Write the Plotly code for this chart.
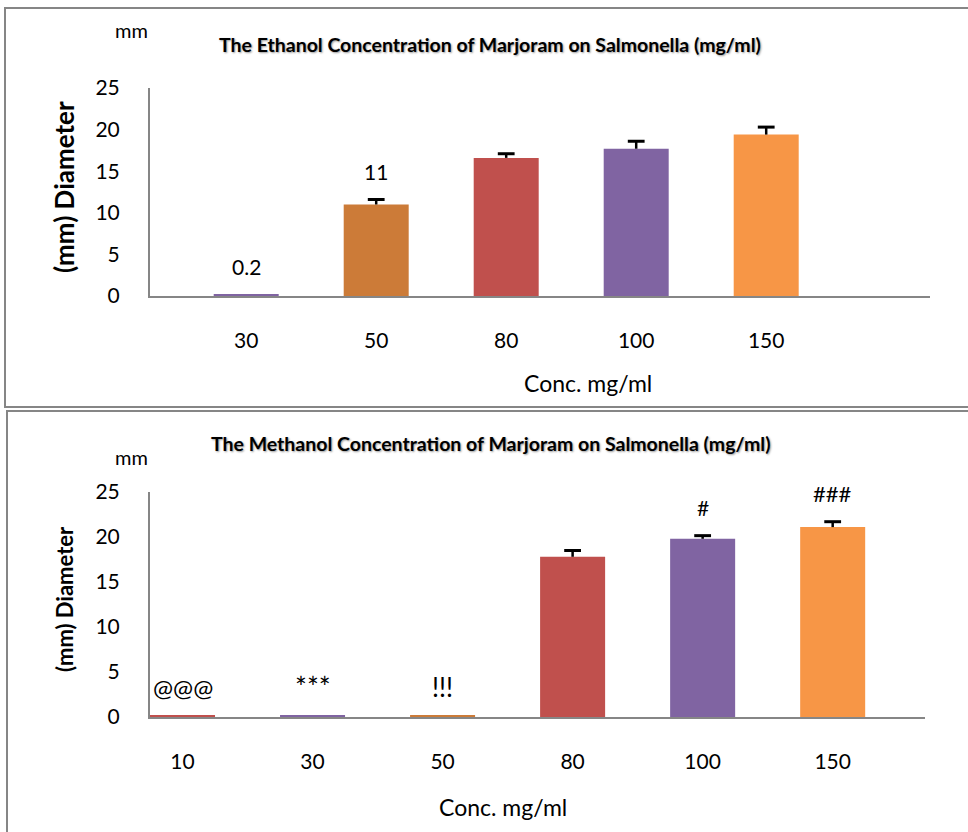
import plotly.graph_objects as go

# ---- data ----
eth_conc = ["30", "50", "80", "100", "150"]
eth_diam = [0.2, 11.0, 16.6, 17.7, 19.4]
eth_err = [None, 0.6, 0.5, 0.9, 0.9]
eth_labels = ["0.2", "11", "", "", ""]

meth_conc = ["10", "30", "50", "80", "100", "150"]
meth_diam = [0.2, 0.2, 0.2, 17.8, 19.8, 21.1]
meth_err = [None, None, None, 0.7, 0.35, 0.6]
meth_labels = ["@@@", "***", "!!!", "", "#", "###"]

eth_colors = ["#8064A2", "#CC7B38", "#C0504D", "#8064A2", "#F79646"]
meth_colors = ["#C0504D", "#8064A2", "#CC7B38", "#C0504D", "#8064A2", "#F79646"]

title_top = "The Ethanol Concentration of Marjoram on Salmonella (mg/ml)"
title_bot = "The Methanol Concentration of Marjoram on Salmonella (mg/ml)"
y_title = "(mm) Diameter"
x_title = "Conc. mg/ml"
unit = "mm"
y_ticks = [0, 5, 10, 15, 20, 25]

FONT = "Lato"
W, H = 968, 832
LABEL_SIZE = {"@@@": 24, "***": 28, "!!!": 26, "###": 22}


def px(x):
    return x / W


def py(y):
    return 1 - y / H


fig = go.Figure()


def add_panel(cats, vals, errs, colors, xa, ya):
    fig.add_trace(go.Bar(
        x=cats, y=vals, width=0.5,
        marker=dict(color=colors, line=dict(width=0)),
        error_y=dict(type="data", array=errs, symmetric=False,
                     arrayminus=[0] * len(errs), color="black", thickness=2.5, width=0),
        xaxis=xa, yaxis=ya, showlegend=False, hoverinfo="x+y",
    ))
    cx = [c for c, e in zip(cats, errs) if e is not None]
    cy = [v + e for v, e in zip(vals, errs) if e is not None]
    fig.add_trace(go.Scatter(
        x=cx, y=cy, mode="markers",
        marker=dict(symbol="line-ew-open", size=12, color="black",
                    line=dict(color="black", width=3)),
        xaxis=xa, yaxis=ya, showlegend=False, hoverinfo="skip",
    ))


add_panel(eth_conc, eth_diam, eth_err, eth_colors, "x", "y")
add_panel(meth_conc, meth_diam, meth_err, meth_colors, "x2", "y2")

axis_line = dict(showline=True, linecolor="#868686", linewidth=2, showgrid=False,
                 zeroline=False, ticks="", automargin=False,
                 tickfont=dict(family=FONT, size=21, color="black"))

layout = dict(
    width=W, height=H, margin=dict(l=0, r=0, t=0, b=0, pad=0, autoexpand=False),
    paper_bgcolor="white", plot_bgcolor="white",
    xaxis=dict(domain=[px(150), px(930)], anchor="y", type="category",
               range=[-0.74, 5.26], ticklabelstandoff=25, **axis_line),
    yaxis=dict(domain=[py(296), py(88)], anchor="x", range=[0, 25],
               tickvals=y_ticks, ticklabelstandoff=24, **axis_line),
    xaxis2=dict(domain=[px(150), px(925)], anchor="y2", type="category",
                range=[-0.25, 5.71], ticklabelstandoff=25, **axis_line),
    yaxis2=dict(domain=[py(717), py(492)], anchor="x2", range=[0, 25],
                tickvals=y_ticks, ticklabelstandoff=24, **axis_line),
)
fig.update_layout(**layout)

annotations = []
shadow = "1px 1px 2px #9a9a9a"
for t, yy in [(title_top, 44), (title_bot, 443)]:
    annotations.append(dict(text=t, x=px(490), y=py(yy), xref="paper", yref="paper",
                            showarrow=False, xanchor="center", yanchor="middle",
                            font=dict(family=FONT, size=19.5, color="black", weight="bold",
                                      shadow=shadow)))
for yy in [30, 457]:
    annotations.append(dict(text=unit, x=px(131), y=py(yy), xref="paper", yref="paper",
                            showarrow=False, xanchor="center", yanchor="middle",
                            font=dict(family=FONT, size=20, color="black")))
for yy, fs in [(187, 26), (599, 22)]:
    annotations.append(dict(text=y_title, x=px(64), y=py(yy), xref="paper", yref="paper",
                            showarrow=False, xanchor="center", yanchor="middle", textangle=-90,
                            font=dict(family=FONT, size=fs, color="black", weight="bold")))
for xx, yy in [(588, 383), (503, 807)]:
    annotations.append(dict(text=x_title, x=px(xx), y=py(yy), xref="paper", yref="paper",
                            showarrow=False, xanchor="center", yanchor="middle",
                            font=dict(family=FONT, size=23, color="black")))

for cats, vals, errs, labs, xr, yr in [
    (eth_conc, eth_diam, eth_err, eth_labels, "x", "y"),
    (meth_conc, meth_diam, meth_err, meth_labels, "x2", "y2"),
]:
    for i, (c, v, e, lab) in enumerate(zip(cats, vals, errs, labs)):
        if not lab:
            continue
        top = v + (e or 0)
        annotations.append(dict(text=lab, x=i, y=top, xref=xr, yref=yr, showarrow=False,
                                xanchor="center", yanchor="middle", yshift=28,
                                font=dict(family=FONT, size=LABEL_SIZE.get(lab, 21),
                                          color="black")))

fig.update_layout(annotations=annotations)

# panel borders
fig.add_shape(type="rect", xref="paper", yref="paper",
              x0=px(5), x1=1.05, y0=py(407), y1=py(8),
              line=dict(color="#868686", width=2), fillcolor="rgba(0,0,0,0)")
fig.add_shape(type="rect", xref="paper", yref="paper",
              x0=px(7), x1=1.05, y0=-0.05, y1=py(411),
              line=dict(color="#868686", width=2), fillcolor="rgba(0,0,0,0)")

js = "document.body.style.margin='0';document.body.style.overflow='hidden';"
fig.write_html("out.html", config={"displayModeBar": False}, post_script=js)
